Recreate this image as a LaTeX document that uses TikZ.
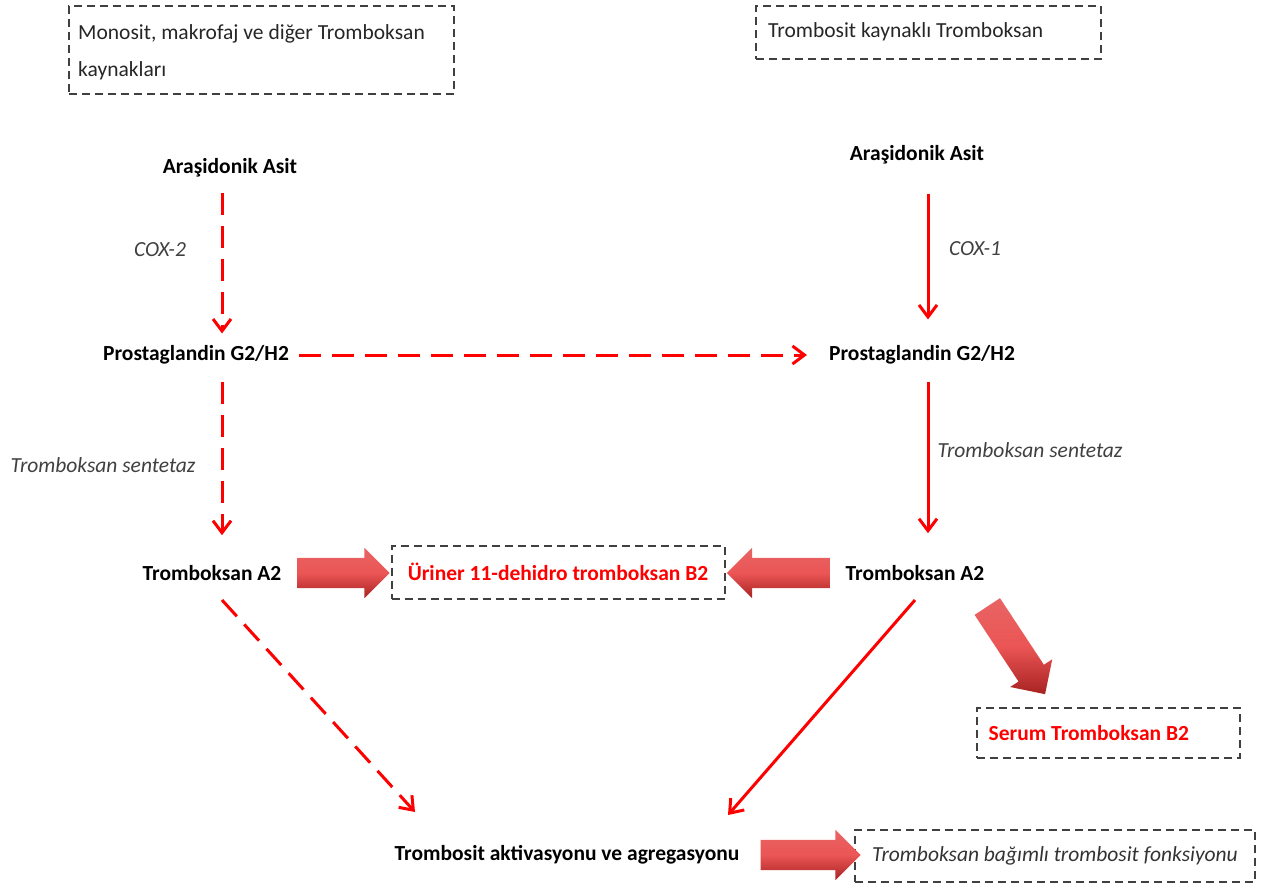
\documentclass[tikz,border=0pt]{standalone}
\usepackage{fontspec}
\setmainfont{Carlito}
\usetikzlibrary{arrows.meta,shapes.arrows,calc}
\definecolor{arrred}{HTML}{FF0000}
\definecolor{boxgray}{HTML}{404040}
\definecolor{fatlight}{HTML}{E86464}
\definecolor{fatdark}{HTML}{A82222}
\newcommand{\fs}{\fontsize{21.5}{26}\selectfont}
\tikzset{
  lbl/.style={font=\fs\bfseries, inner sep=2pt},
  enz/.style={font=\fs\itshape, text=black!75, inner sep=2pt},
  dbox/.style={draw=boxgray, line width=2pt, dash pattern=on 8pt off 5pt, inner sep=0pt},
  redtext/.style={text=arrred, font=\fs\bfseries},
  conn/.style={draw=arrred, line width=3pt, -{Straight Barb[length=12pt,width=18pt,line width=3pt]}},
  dashconn/.style={conn, dash pattern=on 22pt off 11pt},
  fat/.style={single arrow, draw=none, inner sep=0pt, outer sep=0pt,
    single arrow head extend=10pt, single arrow head indent=0pt,
    top color=fatlight, bottom color=fatdark, middle color=fatlight!85!red},
}
\begin{document}
\begin{tikzpicture}[x=1pt,y=-1pt]
\useasboundingbox (0,0) rectangle (1261,886);

% header boxes
\node[dbox, minimum width=385pt, minimum height=88pt, anchor=north west] (src1) at (68,5) {};
\node[anchor=west, font=\fs, text=black!85, align=left, inner sep=0pt] (src1t) at (78,52) {Monosit, makrofaj ve diğer Tromboksan\\[11pt]kaynakları};
\node[dbox, minimum width=345pt, minimum height=53pt, anchor=north west] (src2) at (755,5) {};
\node[anchor=west, font=\fs, text=black!85, inner sep=0pt] (src2t) at (768,32) {Trombosit kaynaklı Tromboksan};

% column coordinates
\coordinate (colL) at (222,0);
\coordinate (colR) at (928,0);

% main labels
\node[lbl] (aaL) at (230,168) {Araşidonik Asit};
\node[lbl] (aaR) at (917,155) {Araşidonik Asit};
\node[lbl] (pgL) at (196,355) {Prostaglandin G2/H2};
\node[lbl] (pgR) at (922,355) {Prostaglandin G2/H2};
\node[lbl] (taL) at (212,573) {Tromboksan A2};
\node[lbl] (taR) at (915,573) {Tromboksan A2};
\node[lbl] (akt) at (567,855) {Trombosit aktivasyonu ve agregasyonu};

% enzymes
\node[enz] (cox2) at (160,250) {COX-2};
\node[enz] (cox1) at (975,249) {COX-1};
\node[enz] (tsL) at (103,465) {Tromboksan sentetaz};
\node[enz] (tsR) at (1030,450) {Tromboksan sentetaz};

% result boxes
\node[dbox, redtext, minimum width=333pt, minimum height=53pt] (uri) at (558,572) {Üriner 11-dehidro tromboksan B2};
\node[dbox, minimum width=263pt, minimum height=50pt] (ser) at (1108,733) {};
\node[redtext, anchor=west, inner sep=0pt] (sert) at ($(ser.west)+(13,0)$) {Serum Tromboksan B2};
\node[dbox, minimum width=400pt, minimum height=52pt, font=\fs\itshape, text=black!80] (fonk) at (1055,856) {Tromboksan bağımlı trombosit fonksiyonu};

% fat arrows
\node[fat, minimum height=92pt] (f1) at (336,573) {\rule{0pt}{30pt}};
\node[fat, minimum height=103pt, shape border rotate=180] (f2) at (786,573) {\rule{0pt}{30pt}};
\node[fat, minimum height=105pt, rotate=-56.6] (f3) at (1012,644) {\rule{0pt}{30pt}};
\node[fat, minimum height=100pt] (f4) at (803,855) {\rule{0pt}{30pt}};

% thin connectors
\draw[dashconn] ($(aaL.south -| colL)+(0,13)$) -- ($(pgL.north -| colL)+(0,-10)$);
\draw[conn] ($(aaR.south -| colR)+(0,27)$) -- ($(pgR.north -| colR)+(0,-24)$);
\draw[dashconn] ($(pgL.east)+(8,0)$) -- ($(pgR.west)+(-20,0)$);
\draw[dashconn] ($(pgL.south -| colL)+(0,15)$) -- ($(taL.north -| colL)+(0,-28)$);
\draw[conn] ($(pgR.south -| colR)+(0,15)$) -- ($(taR.north -| colR)+(0,-30)$);
\coordinate (d1s) at (222,600);
\coordinate (d1e) at (415,812);
\coordinate (d2s) at (915,600);
\coordinate (d2e) at (728,815);
\draw[dashconn] (d1s) -- (d1e);
\draw[conn] (d2s) -- (d2e);
\end{tikzpicture}
\end{document}
